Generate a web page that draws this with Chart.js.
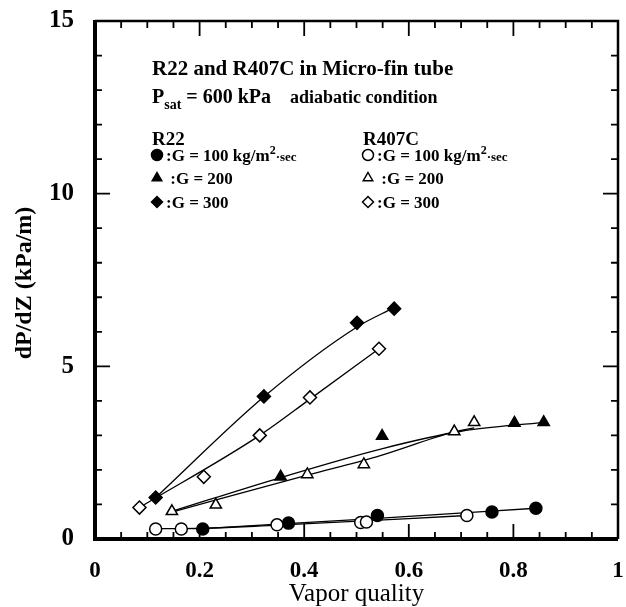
<!DOCTYPE html>
<html>
<head>
<meta charset="utf-8">
<script src="https://cdn.jsdelivr.net/npm/chart.js@4.4.1/dist/chart.umd.min.js"></script>
<style>
body { margin: 0; background: #fff; }
canvas { display: block; }
</style>
</head>
<body>
<canvas id="chart" width="626" height="607"></canvas>
<script>
var r22G100X = [0.206, 0.370, 0.540, 0.759, 0.843];
var r22G100Y = [0.29, 0.46, 0.68, 0.78, 0.89];
var r407G100X = [0.116, 0.165, 0.348, 0.508, 0.519, 0.711];
var r407G100Y = [0.29, 0.29, 0.41, 0.48, 0.49, 0.68];

var r22G200X = [0.355, 0.549, 0.802, 0.858];
var r22G200Y = [1.80, 2.98, 3.36, 3.38];
var r407G200X = [0.147, 0.231, 0.406, 0.514, 0.687, 0.725];
var r407G200Y = [0.80, 0.99, 1.87, 2.16, 3.11, 3.38];

var r22G300X = [0.116, 0.323, 0.501, 0.572];
var r22G300Y = [1.20, 4.13, 6.26, 6.67];
var r407G300X = [0.085, 0.208, 0.315, 0.411, 0.543];
var r407G300Y = [0.91, 1.80, 3.00, 4.10, 5.51];

// fitted curves
var fitR22G100X = [0.206, 0.540, 0.843];
var fitR22G100Y = [0.30, 0.60, 0.89];
var fitR407G100X = [0.116, 0.165, 0.350, 0.711];
var fitR407G100Y = [0.30, 0.30, 0.40, 0.68];

var fitR22G200X = [0.147, 0.355, 0.550, 0.700, 0.858];
var fitR22G200Y = [0.80, 1.78, 2.62, 3.12, 3.38];
var fitR407G200X = [0.147, 0.406, 0.538, 0.687, 0.725];
var fitR407G200Y = [0.78, 1.85, 2.38, 3.10, 3.22];

var fitR22G300X = [0.116, 0.323, 0.501, 0.572];
var fitR22G300Y = [1.20, 4.12, 6.14, 6.70];
var fitR407G300X = [0.085, 0.315, 0.411, 0.543];
var fitR407G300Y = [0.91, 3.00, 4.05, 5.51];

var xTicks = [0, 0.2, 0.4, 0.6, 0.8, 1];
var xTickLabels = ['0', '0.2', '0.4', '0.6', '0.8', '1'];
var yTicks = [0, 5, 10, 15];
var yTickLabels = ['0', '5', '10', '15'];

var SERIF = '"Liberation Serif", "DejaVu Serif", serif';

function pts(xs, ys) {
	var out = [];
	for (var i = 0; i < xs.length; i++) {
		out.push({x: xs[i], y: ys[i]});
	};
	return out;
};

function markerSet(label, xs, ys, style, filled, r) {
	return {
		label: label,
		data: pts(xs, ys),
		showLine: false,
		pointStyle: style,
		pointRadius: r,
		pointBackgroundColor: filled ? '#000' : '#fff',
		pointBorderColor: '#000',
		pointBorderWidth: 1.5,
		order: 0
	};
};

function fitSet(label, xs, ys) {
	return {
		label: label,
		data: pts(xs, ys),
		showLine: true,
		borderColor: '#000',
		borderWidth: 1.3,
		pointRadius: 0,
		cubicInterpolationMode: 'monotone',
		order: 1
	};
};

function marker(ctx, style, filled, x, y, r) {
	ctx.beginPath();
	if (style == 'circle') {
		ctx.arc(x, y, r, 0, Math.PI * 2);
	} else if (style == 'triangle') {
		ctx.moveTo(x, y - r);
		ctx.lineTo(x + r * 0.866, y + r * 0.5);
		ctx.lineTo(x - r * 0.866, y + r * 0.5);
		ctx.closePath();
	} else {
		ctx.moveTo(x, y - r);
		ctx.lineTo(x + r, y);
		ctx.lineTo(x, y + r);
		ctx.lineTo(x - r, y);
		ctx.closePath();
	};
	ctx.fillStyle = filled ? '#000' : '#fff';
	ctx.fill();
	ctx.lineWidth = 1.5;
	ctx.strokeStyle = '#000';
	ctx.stroke();
};

function txt(ctx, s, x, y, font, align) {
	ctx.font = font;
	ctx.textAlign = align || 'left';
	ctx.fillStyle = '#000';
	ctx.fillText(s, x, y);
	return ctx.measureText(s).width;
};

function gEntry(ctx, x, y, style, filled, text, unit) {
	marker(ctx, style, filled, x, y - 6, 5.5);
	var w = txt(ctx, text, x + 9, y, 'bold 17px ' + SERIF);
	if (unit) {
		var cx = x + 9 + w;
		cx += txt(ctx, '2', cx, y - 7, 'bold 12px ' + SERIF);
		txt(ctx, '\u00b7sec', cx, y, 'bold 13px ' + SERIF);
	};
};

var frame = {
	id: 'frame',
	afterDatasetsDraw: function(chart) {
		var ctx = chart.ctx;
		var a = chart.chartArea;
		var xs = chart.scales.x, ys = chart.scales.y;
		ctx.save();
		ctx.strokeStyle = '#000';

		// ticks, pointing inwards
		ctx.lineWidth = 1.8;
		for (var i = 0; i <= 20; i++) {
			var v = i * 0.05;
			var px = xs.getPixelForValue(v);
			var len = (i % 4 == 0) ? 15 : 7;
			ctx.beginPath();
			ctx.moveTo(px, a.bottom); ctx.lineTo(px, a.bottom - len);
			ctx.moveTo(px, a.top); ctx.lineTo(px, a.top + len);
			ctx.stroke();
		};
		for (var j = 0; j <= 15; j++) {
			var py = ys.getPixelForValue(j);
			var len2 = (j % 5 == 0) ? 15 : 7;
			ctx.beginPath();
			ctx.moveTo(a.left, py); ctx.lineTo(a.left + len2, py);
			ctx.moveTo(a.right, py); ctx.lineTo(a.right - len2, py);
			ctx.stroke();
		};

		// box
		ctx.lineWidth = 2.5;
		ctx.beginPath();
		ctx.moveTo(a.left, a.top); ctx.lineTo(a.right, a.top); ctx.lineTo(a.right, a.bottom);
		ctx.stroke();
		ctx.lineWidth = 4;
		ctx.beginPath();
		ctx.moveTo(a.left, a.top - 1); ctx.lineTo(a.left, a.bottom); ctx.lineTo(a.right, a.bottom);
		ctx.stroke();

		// tick labels
		ctx.textBaseline = 'middle';
		for (var k = 0; k < xTicks.length; k++) {
			txt(ctx, xTickLabels[k], xs.getPixelForValue(xTicks[k]), 571, 'bold 23px ' + SERIF, 'center');
		};
		for (var m = 0; m < yTicks.length; m++) {
			txt(ctx, yTickLabels[m], 74, ys.getPixelForValue(yTicks[m]), 'bold 25px ' + SERIF, 'right');
		};

		// axis titles
		ctx.textBaseline = 'alphabetic';
		txt(ctx, 'Vapor quality', (a.left + a.right) / 2, 601, '25px ' + SERIF, 'center');
		ctx.save();
		ctx.translate(31, 283);
		ctx.rotate(-Math.PI / 2);
		txt(ctx, 'dP/dZ (kPa/m)', 0, 0, 'bold 24px ' + SERIF, 'center');
		ctx.restore();

		// annotation block inside the plot
		txt(ctx, 'R22 and R407C in Micro-fin tube', 152, 75, 'bold 21px ' + SERIF);
		var cx = 152;
		cx += txt(ctx, 'P', cx, 103, 'bold 20px ' + SERIF);
		cx += txt(ctx, 'sat', cx, 109, 'bold 14px ' + SERIF);
		txt(ctx, ' = 600 kPa', cx, 103, 'bold 20px ' + SERIF);
		txt(ctx, 'adiabatic condition', 290, 103, 'bold 18px ' + SERIF);

		txt(ctx, 'R22', 152, 145, 'bold 19px ' + SERIF);
		txt(ctx, 'R407C', 363, 145, 'bold 19px ' + SERIF);
		gEntry(ctx, 157, 161, 'circle', true, ':G = 100 kg/m', true);
		gEntry(ctx, 157, 184, 'triangle', true, ' :G = 200', false);
		gEntry(ctx, 157, 208, 'diamond', true, ':G = 300', false);
		gEntry(ctx, 368, 161, 'circle', false, ':G = 100 kg/m', true);
		gEntry(ctx, 368, 184, 'triangle', false, ' :G = 200', false);
		gEntry(ctx, 368, 208, 'diamond', false, ':G = 300', false);

		ctx.restore();
	}
};

var datasets = [
	markerSet('R407C G=100', r407G100X, r407G100Y, 'circle', false, 6),
	markerSet('R22 G=100', r22G100X, r22G100Y, 'circle', true, 6),
	markerSet('R407C G=200', r407G200X, r407G200Y, 'triangle', false, 6.5),
	markerSet('R22 G=200', r22G200X, r22G200Y, 'triangle', true, 6.5),
	markerSet('R407C G=300', r407G300X, r407G300Y, 'rectRot', false, 6.5),
	markerSet('R22 G=300', r22G300X, r22G300Y, 'rectRot', true, 6.5),
	fitSet('fit R22 G=100', fitR22G100X, fitR22G100Y),
	fitSet('fit R407C G=100', fitR407G100X, fitR407G100Y),
	fitSet('fit R22 G=200', fitR22G200X, fitR22G200Y),
	fitSet('fit R407C G=200', fitR407G200X, fitR407G200Y),
	fitSet('fit R22 G=300', fitR22G300X, fitR22G300Y),
	fitSet('fit R407C G=300', fitR407G300X, fitR407G300Y)
];

var canvas = document.getElementById('chart');
var myChart = new Chart(canvas.getContext('2d'), {
	type: 'scatter',
	data: {datasets: datasets},
	options: {
		responsive: false,
		animation: false,
		devicePixelRatio: 1,
		layout: {padding: {left: 95, right: 3, top: 21, bottom: 68}},
		scales: {
			x: {type: 'linear', min: 0, max: 1, display: false},
			y: {type: 'linear', min: 0, max: 15, display: false}
		},
		plugins: {legend: {display: false}, tooltip: {enabled: false}}
	},
	plugins: [frame]
});
</script>
</body>
</html>
